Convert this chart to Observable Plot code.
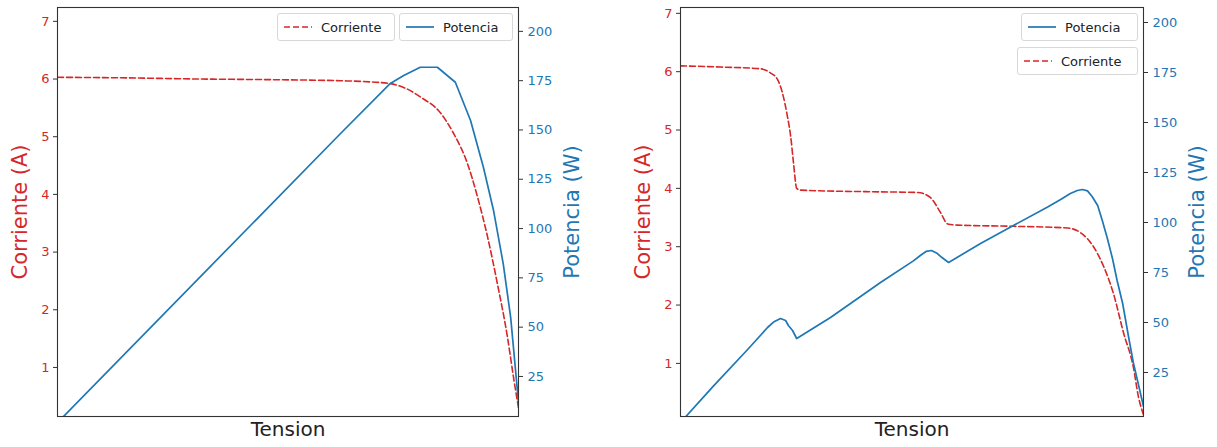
<!DOCTYPE html>
<html>
<head>
<meta charset="utf-8">
<script src="https://cdn.jsdelivr.net/npm/d3@7"></script>
<script src="https://cdn.jsdelivr.net/npm/@observablehq/plot@0.6"></script>
<style>
  html, body { margin: 0; padding: 0; background: #fff; }
  #wrap { position: relative; width: 1217px; height: 447px; overflow: hidden; font-family: "DejaVu Sans", sans-serif; }
  .panel { position: absolute; top: 0; }
  .legend { position: absolute; box-sizing: border-box; border: 1px solid #d8d8d8; border-radius: 3px;
            background: rgba(255,255,255,0.85); display: flex; align-items: center; font-size: 13px; color: #222; }
  .legend svg { margin: 0 9px 0 6px; }
</style>
</head>
<body>
<div id="wrap"></div>
<script>
// ---------- data (tension normalised 0..100 across the plotted range) ----------
const tensionCorrL = [0, 15, 31, 45, 61.4, 67.9, 72.2, 75.5, 78.7, 83.1, 85.9, 88.9, 91.1, 93.3, 95.4, 97.6, 98.9, 100];
const corrienteL   = [6.03, 6.02, 6.0, 5.99, 5.97, 5.95, 5.92, 5.84, 5.69, 5.41, 5.06, 4.54, 3.96, 3.26, 2.46, 1.53, 0.84, 0.3];
const tensionPotL  = [0, 61.4, 72.2, 75.1, 78.7, 82.4, 86.3, 89.6, 92.4, 94.6, 96.7, 98.3, 100];
const potenciaL    = [1.6, 148.2, 173.6, 177.6, 181.8, 181.8, 174.2, 154.8, 131, 109, 82, 55, 12];

const tensionCorrR = [0, 8.6, 17.3, 19.4, 21.0, 22.0, 23.1, 23.8, 24.4, 25.1, 25.9, 43.2, 51.2, 54.0, 56.2, 57.7, 59.8, 71.9, 83.6, 86.4, 89.2, 91.4, 93.5, 95.7, 97.8, 98.9, 100];
const corrienteR   = [6.1, 6.08, 6.05, 5.98, 5.86, 5.64, 5.23, 4.89, 4.44, 4.0, 3.97, 3.94, 3.93, 3.84, 3.58, 3.39, 3.37, 3.35, 3.32, 3.24, 3.0, 2.66, 2.2, 1.52, 0.94, 0.43, 0.12];
const tensionPotR  = [0, 7.1, 14.5, 18.8, 20.1, 21.6, 22.7, 23.3, 24.2, 25.1, 32.4, 43.2, 50.3, 51.8, 53.1, 54.2, 55.3, 56.4, 57.9, 64.8, 71.9, 79.3, 82.1, 84.2, 85.7, 86.8, 87.9, 88.9, 90.1, 91.1, 92.2, 93.3, 94.3, 95.5, 96.8, 97.8, 98.7, 100];
const potenciaR    = [0, 18.2, 36.5, 47.5, 50.2, 52, 51, 48.5, 46, 42, 52.5, 70, 80.8, 83.5, 85.6, 86, 84.8, 82.6, 80, 89.5, 98.5, 107.7, 111.5, 114.5, 116, 116.5, 115.8, 113, 108.5, 101, 92, 82, 71, 59.5, 42.5, 30, 21, 8];

const corrTicks = [1, 2, 3, 4, 5, 6, 7];
const potTicks  = [25, 50, 75, 100, 125, 150, 175, 200];

const RED = "#d62728", BLUE = "#1f77b4";

function panel(cfg) {
  const [i0, i1] = cfg.iDomain, [p0, p1] = cfg.pDomain;
  const pToI = p => i0 + (p - p0) / (p1 - p0) * (i1 - i0);
  const iToP = i => p0 + (i - i0) / (i1 - i0) * (p1 - p0);
  const corr = cfg.tc.map((v, k) => ({v, i: cfg.c[k]}));
  const pot  = cfg.tp.map((v, k) => ({v, p: cfg.p[k]}));
  const chart = Plot.plot({
    width: cfg.width, height: 447,
    marginLeft: cfg.ml, marginRight: cfg.mr, marginTop: 7, marginBottom: 31,
    style: {fontFamily: "DejaVu Sans, sans-serif", fontSize: "13px", background: "white"},
    x: {domain: [0, 100], axis: null},
    y: {domain: cfg.iDomain, axis: null},
    marks: [
      Plot.line(corr, {x: "v", y: "i", stroke: RED, strokeWidth: 1.6, strokeDasharray: "6,3", curve: "monotone-x", clip: true}),
      Plot.line(pot, {x: "v", y: d => pToI(d.p), stroke: BLUE, strokeWidth: 1.7, curve: "linear", clip: true}),
      Plot.frame({stroke: "#333", strokeWidth: 1.1}),
      Plot.axisY(corrTicks, {anchor: "left", tickSize: 4, tickPadding: 4, stroke: "#333", fill: RED, label: null, tickFormat: d => String(d)}),
      Plot.axisY(potTicks.map(pToI), {anchor: "right", tickSize: 4, tickPadding: 5, stroke: "#333", fill: BLUE, label: null, tickFormat: d => String(Math.round(iToP(d)))}),
      Plot.text(["Corriente (A)"], {frameAnchor: "left", textAnchor: "middle", dx: -37, rotate: -90, fontSize: 21, fill: RED}),
      Plot.text(["Potencia (W)"], {frameAnchor: "right", textAnchor: "middle", dx: 54, rotate: -90, fontSize: 21, fill: BLUE}),
      Plot.text(["Tension"], {frameAnchor: "bottom", dy: 19, fontSize: 20, fill: "#222"})
    ]
  });
  chart.classList.add("panel");
  chart.style.left = cfg.left + "px";
  return chart;
}

const wrap = document.getElementById("wrap");
wrap.appendChild(panel({left: 0, width: 608, ml: 57, mr: 90, iDomain: [0.15, 7.24], pDomain: [4.7, 212.1],
  tc: tensionCorrL, c: corrienteL, tp: tensionPotL, p: potenciaL}));
wrap.appendChild(panel({left: 608, width: 609, ml: 72, mr: 74, iDomain: [0.09, 7.1], pDomain: [3, 207.5],
  tc: tensionCorrR, c: corrienteR, tp: tensionPotR, p: potenciaR}));

function legend(x, y, w, h, label, dashed, color) {
  const d = document.createElement("div");
  d.className = "legend";
  Object.assign(d.style, {left: x + "px", top: y + "px", width: w + "px", height: h + "px"});
  d.innerHTML = `<svg width="28" height="8"><line x1="0" y1="4" x2="28" y2="4" stroke="${color}" stroke-width="1.7" ${dashed ? 'stroke-dasharray="6,3"' : ""}/></svg><span>${label}</span>`;
  wrap.appendChild(d);
}
legend(277, 13, 118, 28, "Corriente", true, RED);
legend(399, 13, 114, 28, "Potencia", false, BLUE);
legend(1021, 13, 117, 28, "Potencia", false, BLUE);
legend(1017, 47, 121, 28, "Corriente", true, RED);
</script>
</body>
</html>
